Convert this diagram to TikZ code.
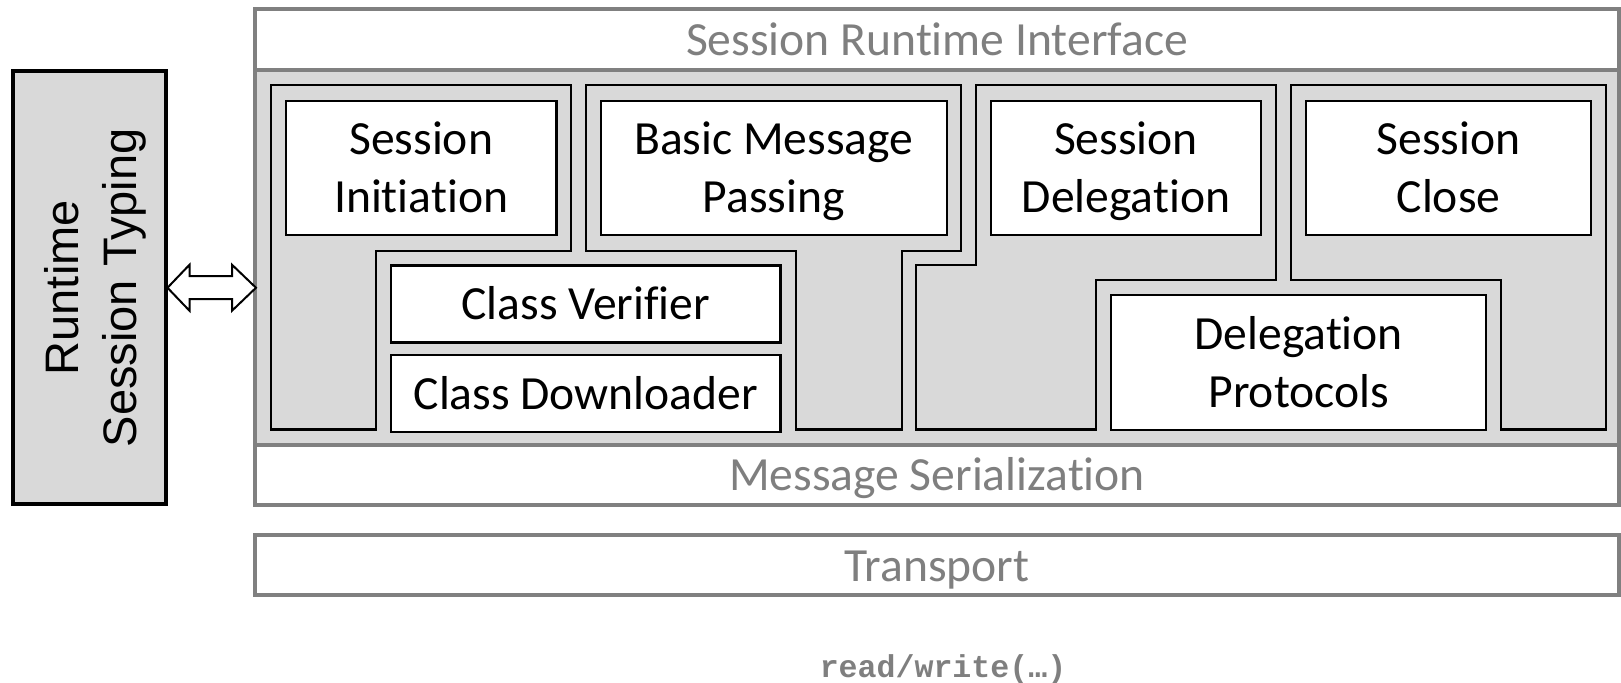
\documentclass[tikz,border=0pt]{standalone}
\usepackage{fontspec}
\setmainfont{Carlito}[Ligatures={NoRequired,NoCommon,NoContextual,NoRare},Contextuals={NoAlternate}]
\newfontfamily\rstfont{Liberation Sans}
\newfontfamily\rwfont{Liberation Mono}
\usetikzlibrary{calc}

\definecolor{framegray}{HTML}{808080}
\definecolor{fillgray}{HTML}{D9D9D9}
\definecolor{labelgray}{HTML}{7F7F7F}

% struts give every text line the same height and depth
\newcommand\lnstrut{\rule[-6.5pt]{0pt}{28.85pt}}
\newcommand\rtstrut{\rule[-5.5pt]{0pt}{29pt}}

\begin{document}
\begin{tikzpicture}[x=0.5pt,y=-0.5pt,
  lbl/.style={font=\fontsize{23.8pt}{28.85pt}\selectfont, align=center, inner sep=0pt},
  stratum/.style={draw=framegray, line width=2pt, fill=white, minimum width=682pt,
                  inner sep=0pt, lbl, text=labelgray},
  module/.style={draw=black, line width=1.15pt, fill=white, lbl},
  grp/.style={draw=black, line width=1.15pt, fill=fillgray},
  dblarrow/.style={draw=black, line width=1pt, fill=white, line join=miter},
]
\useasboundingbox (0,0) rectangle (1621,683);

% protocol stack frame
\node[stratum, fill=fillgray, minimum height=187.1pt] (core) at (937,257.6) {};
\node[stratum, minimum height=30.5pt] (sri) at (937,40) {\lnstrut Session Runtime Interface};
\node[stratum, minimum height=30pt] (ms) at (937,474.7) {\lnstrut Message Serialization};
\node[stratum, minimum height=30pt] (tr) at (937,565.3) {\lnstrut Transport};

% groups of modules
\draw[grp] (271,85.3) -- (570.7,85.3) -- (570.7,250.7) -- (376,250.7)
  -- (376,429.5) -- (271,429.5) -- cycle;
\draw[grp] (586.2,85.3) -- (961.2,85.3) -- (961.2,250.7) -- (901.7,250.7)
  -- (901.7,429.5) -- (796.2,429.5) -- (796.2,250.7) -- (586.2,250.7) -- cycle;
\draw[grp] (916.2,265.2) -- (976.2,265.2) -- (976.2,85.3) -- (1275.8,85.3)
  -- (1275.8,280.2) -- (1096.2,280.2) -- (1096.2,429.5) -- (916.2,429.5) -- cycle;
\draw[grp] (1291.2,85.3) -- (1606.2,85.3) -- (1606.2,429.5) -- (1501.2,429.5)
  -- (1501.2,280.2) -- (1291.2,280.2) -- cycle;

% modules
\node[module, minimum width=135.35pt, minimum height=67.3pt] (si) at (421.15,168)
  {\lnstrut Session\\\lnstrut Initiation};
\node[module, minimum width=173pt, minimum height=67.3pt] (bmp) at (773.8,168)
  {\lnstrut Basic Message\\\lnstrut Passing};
\node[module, minimum width=135.2pt, minimum height=67.3pt] (sd) at (1126,168)
  {\lnstrut Session\\\lnstrut Delegation};
\node[module, minimum width=142.7pt, minimum height=67.3pt] (sc) at (1448.5,168)
  {\lnstrut Session\\\lnstrut Close};
\node[module, minimum width=194.65pt, minimum height=38.5pt] (cv) at (585.85,304)
  {\lnstrut Class Verifier};
\node[module, minimum width=194.65pt, minimum height=38.5pt] (cd) at (585.85,393.7)
  {\lnstrut Class Downloader};
\node[module, minimum width=187.5pt, minimum height=67.5pt] (dp) at (1298.7,362.7)
  {\lnstrut Delegation\\\lnstrut Protocols};

% runtime session typing
\node[draw=black, line width=2pt, fill=fillgray, minimum width=76.25pt,
      minimum height=216.25pt, inner sep=0pt] (rst) at (89.25,287.75) {};
\node[rotate=90, align=center, inner sep=0pt,
      font=\rstfont\fontsize{23.5pt}{29pt}\selectfont] (rstl) at (89.3,287.75)
  {\rtstrut Runtime\\\rtstrut Session Typing};

% two-way link between the checker and the stack
\coordinate (tipR) at ($(rst.east -| core.west)+(3,0)$);
\draw[dblarrow] (rst.east) -- ++(22,-23) -- ++(0,11.5) -- ($(tipR)+(-24,-11.5)$)
  -- ++(0,-11.5) -- (tipR) -- ++(-24,23) -- ++(0,-11.5)
  -- ($(rst.east)+(22,11.5)$) -- ++(0,11.5) -- cycle;

% transport calls
\node[inner sep=0pt, text=labelgray, font=\rwfont\bfseries\fontsize{15.8pt}{18pt}\selectfont]
  (rw) at (943,669) {read/write(…)};
\end{tikzpicture}
\end{document}
